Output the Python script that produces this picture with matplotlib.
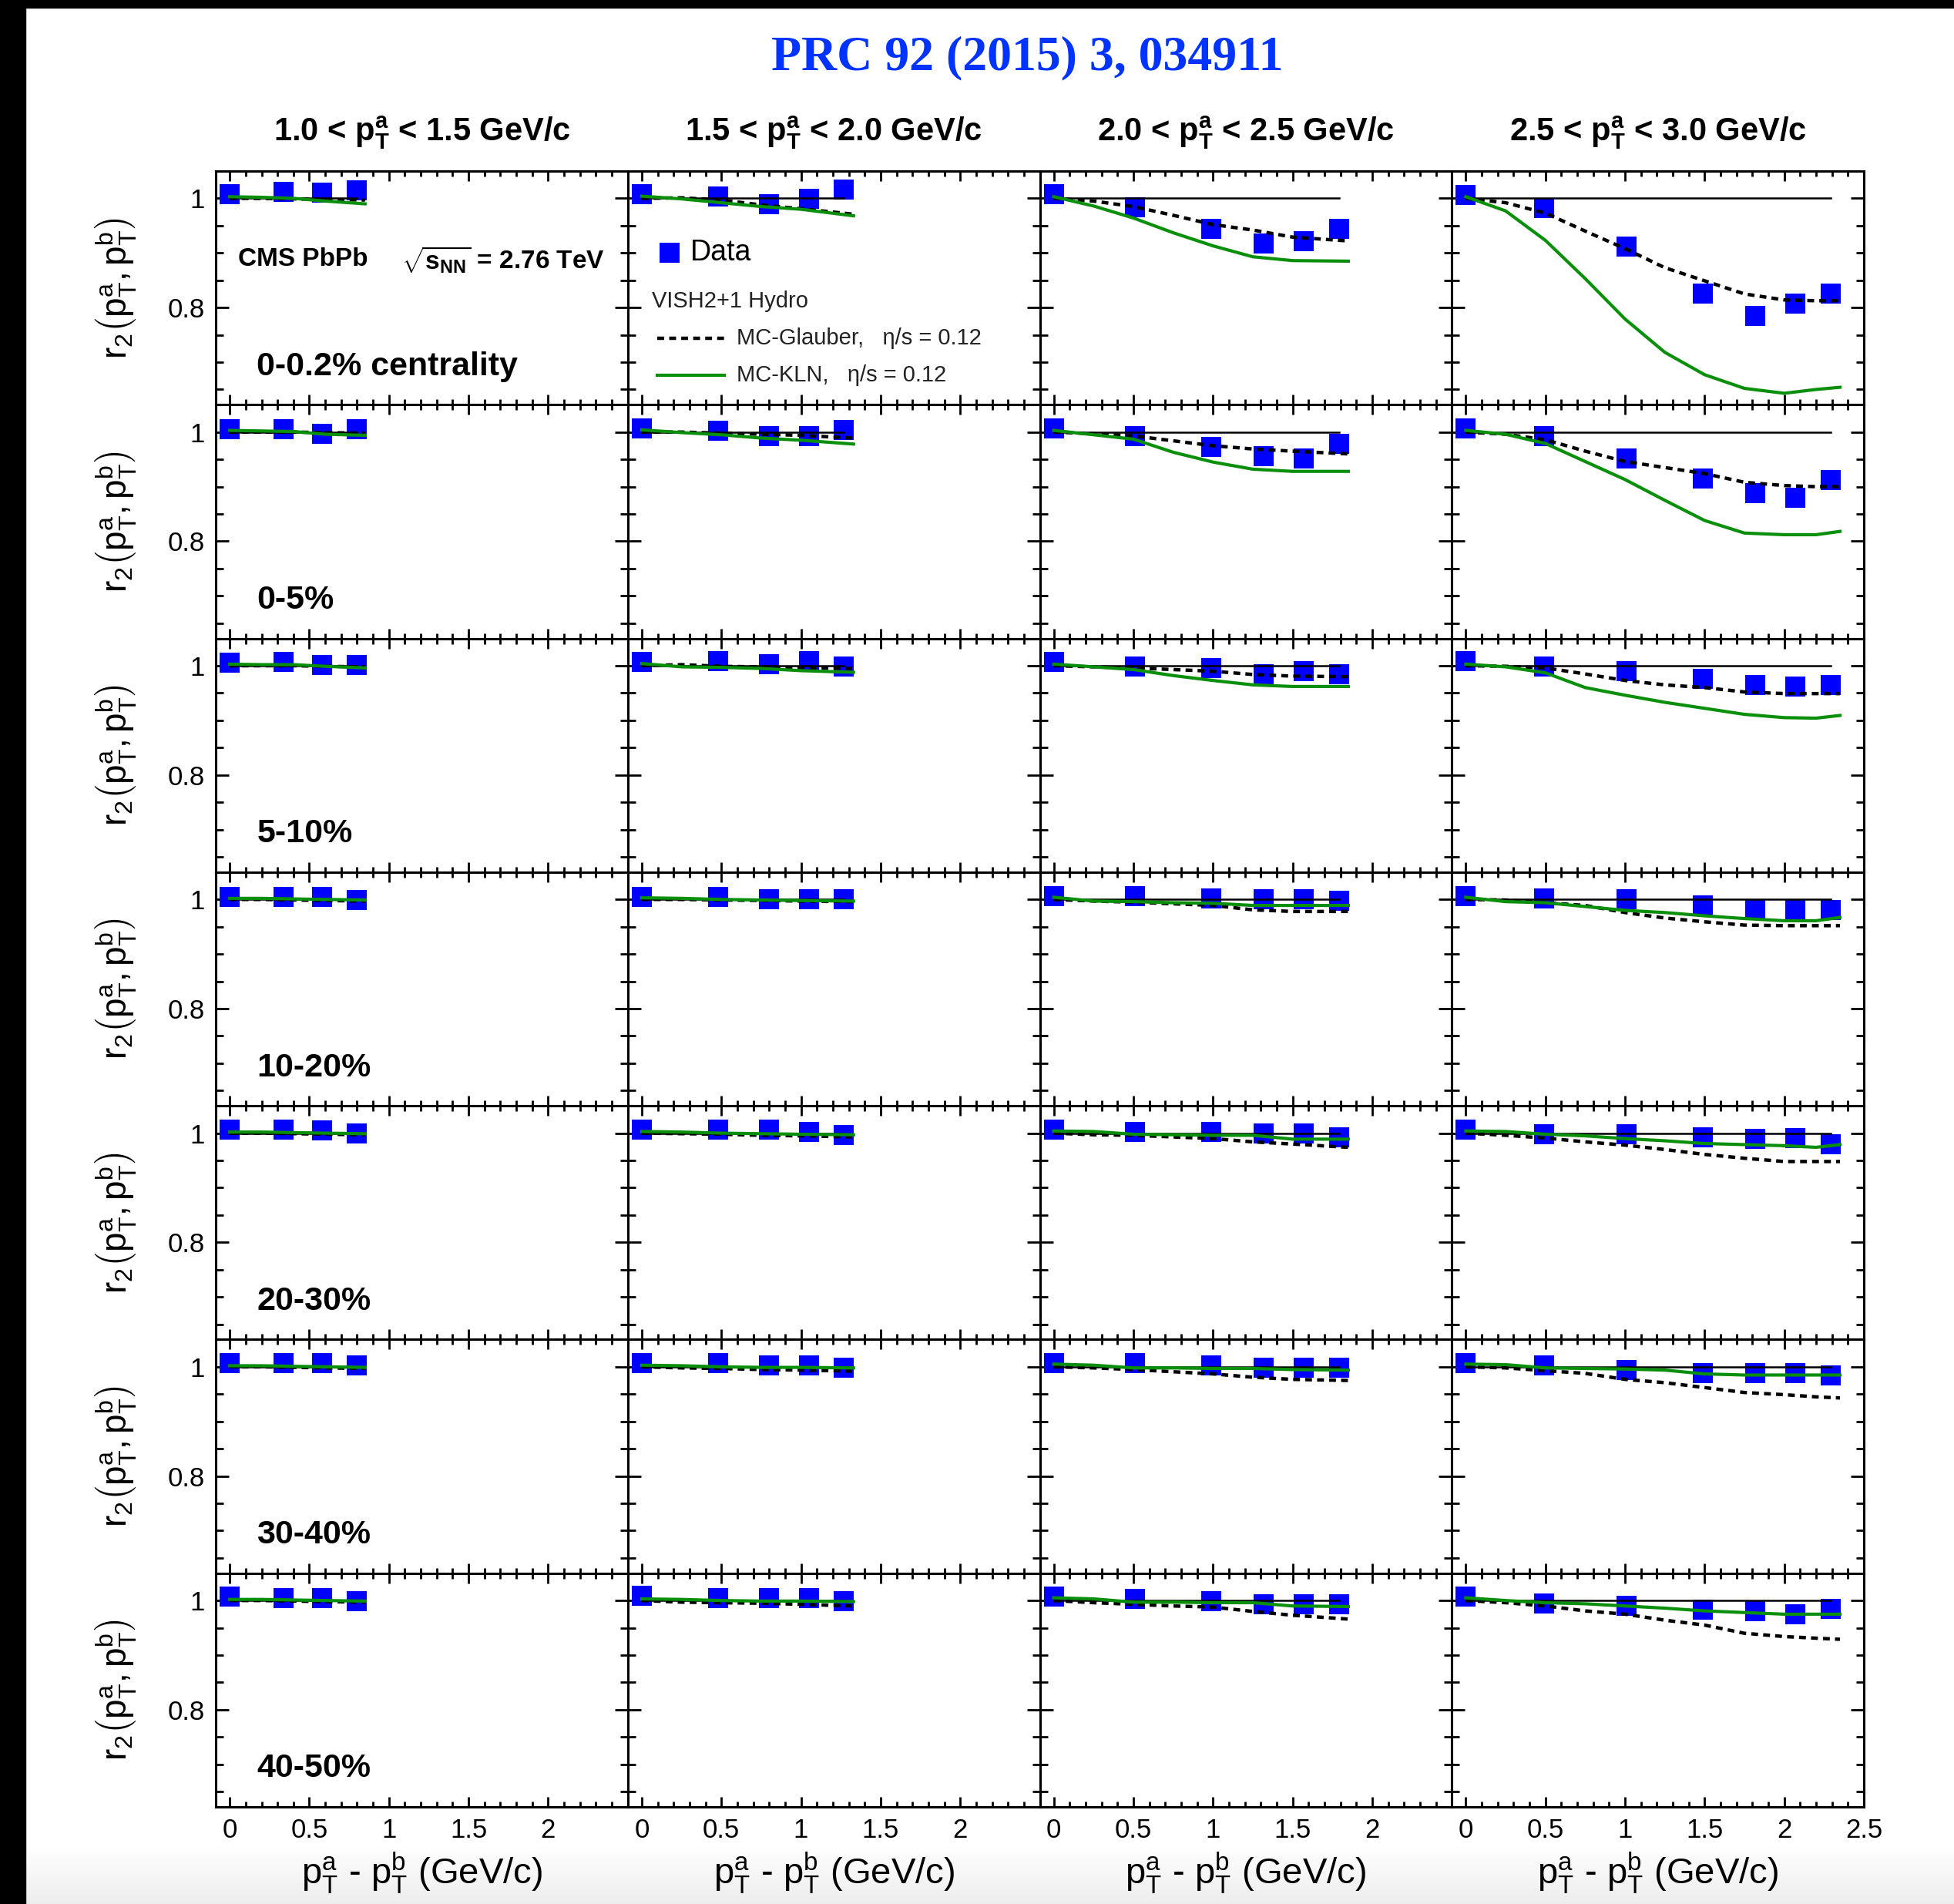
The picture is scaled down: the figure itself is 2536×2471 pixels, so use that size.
import numpy as np
import matplotlib
matplotlib.use("Agg")
import matplotlib.pyplot as plt
from matplotlib.ticker import MultipleLocator, FuncFormatter
from matplotlib.patches import Rectangle

plt.rcParams['font.family'] = ['Liberation Sans', 'DejaVu Sans']
plt.rcParams['mathtext.fontset'] = 'custom'
plt.rcParams['mathtext.rm'] = 'Liberation Sans'
plt.rcParams['mathtext.it'] = 'Liberation Sans'
plt.rcParams['mathtext.sf'] = 'Liberation Sans'
plt.rcParams['mathtext.bf'] = 'Liberation Sans:bold'

# ---------------- data ----------------
pta_low = ['1.0', '1.5', '2.0', '2.5']
pta_high = ['1.5', '2.0', '2.5', '3.0']
centralities = ['0-0.2% centrality', '0-5%', '5-10%', '10-20%', '20-30%', '30-40%', '40-50%']

# x = pT^a - pT^b of data points, per pT^a column
x_data1 = [0, 0.34, 0.58, 0.80]
x_data2 = [0, 0.48, 0.80, 1.05, 1.27]
x_data3 = [0, 0.51, 0.99, 1.32, 1.57, 1.79]
x_data4 = [0, 0.49, 1.01, 1.49, 1.82, 2.07, 2.29]

# x grids of the hydro curves, per column
th_x1 = [0, 0.2, 0.4, 0.6, 0.85]
th_x2 = [0, 0.25, 0.5, 0.75, 1.0, 1.33]
th_x3 = [0, 0.25, 0.5, 0.75, 1.0, 1.25, 1.5, 1.85]
th_x4 = [0, 0.25, 0.5, 0.75, 1.0, 1.25, 1.5, 1.75, 2.0, 2.2, 2.35]

# measured r2, one list per centrality, entries per column
r2_c0 = [[1.007, 1.012, 1.010, 1.015], [1.007, 1.004, 0.989, 0.999, 1.016],
         [1.007, 0.983, 0.944, 0.917, 0.922, 0.944], [1.006, 0.982, 0.912, 0.825, 0.784, 0.807, 0.825]]
r2_c1 = [[1.005, 1.005, 0.997, 1.005], [1.006, 1.002, 0.993, 0.993, 1.004],
         [1.007, 0.993, 0.973, 0.956, 0.951, 0.979], [1.007, 0.993, 0.951, 0.915, 0.888, 0.880, 0.912]]
r2_c2 = [[1.005, 1.007, 1.002, 1.002], [1.007, 1.008, 1.003, 1.008, 0.998],
         [1.007, 0.998, 0.996, 0.985, 0.990, 0.985], [1.008, 0.998, 0.990, 0.976, 0.965, 0.962, 0.965]]
r2_c3 = [[1.005, 1.005, 1.004, 0.999], [1.005, 1.004, 1.000, 1.000, 1.000],
         [1.006, 1.006, 1.002, 1.001, 1.001, 0.997], [1.006, 1.002, 1.001, 0.989, 0.982, 0.982, 0.981]]
r2_c4 = [[1.006, 1.006, 1.005, 0.999], [1.006, 1.006, 1.006, 1.002, 0.997],
         [1.006, 1.002, 1.002, 0.999, 0.999, 0.992], [1.006, 0.998, 0.998, 0.993, 0.989, 0.991, 0.980]]
r2_c5 = [[1.007, 1.007, 1.007, 1.002], [1.007, 1.007, 1.002, 1.002, 0.999],
         [1.007, 1.007, 1.003, 0.999, 0.999, 0.998], [1.007, 1.003, 0.994, 0.989, 0.989, 0.989, 0.984]]
r2_c6 = [[1.007, 1.004, 1.004, 0.999], [1.008, 1.004, 1.004, 1.004, 0.999],
         [1.007, 1.003, 0.999, 0.993, 0.993, 0.993], [1.007, 0.994, 0.990, 0.983, 0.981, 0.975, 0.985]]

# VISH2+1 MC-Glauber (eta/s = 0.12)
glauber_c0 = [[1.0, 1.0, 0.999, 0.998, 0.997], [1.0, 1.001, 0.997, 0.988, 0.981, 0.971],
              [1.0, 0.995, 0.985, 0.969, 0.952, 0.942, 0.929, 0.922],
              [1.0, 0.992, 0.973, 0.940, 0.908, 0.873, 0.849, 0.825, 0.814, 0.8125, 0.8125]]
glauber_c1 = [[1.0, 1.0, 1.0, 0.999, 0.998], [1.0, 1.0, 0.998, 0.996, 0.994, 0.989],
              [1.0, 0.997, 0.993, 0.984, 0.975, 0.969, 0.965, 0.960],
              [1.0, 0.996, 0.986, 0.965, 0.946, 0.935, 0.924, 0.908, 0.902, 0.900, 0.900]]
glauber_c2 = [[1.0, 1.0, 1.0, 0.999, 0.998], [1.0, 1.002, 0.999, 0.998, 0.996, 0.995],
              [1.0, 0.998, 0.996, 0.993, 0.990, 0.984, 0.981, 0.980],
              [1.0, 0.999, 0.996, 0.985, 0.973, 0.965, 0.960, 0.952, 0.949, 0.949, 0.949]]
glauber_c3 = [[1.0, 1.0, 0.999, 0.998, 0.997], [1.0, 1.0, 0.999, 0.998, 0.997, 0.996],
              [1.0, 0.997, 0.995, 0.992, 0.989, 0.981, 0.978, 0.978],
              [1.0, 0.999, 0.994, 0.989, 0.976, 0.966, 0.959, 0.953, 0.952, 0.952, 0.952]]
glauber_c4 = [[1.0, 1.0, 0.999, 0.998, 0.997], [1.0, 0.999, 0.998, 0.996, 0.995, 0.993],
              [1.0, 0.997, 0.996, 0.993, 0.990, 0.984, 0.980, 0.974],
              [1.0, 0.996, 0.991, 0.984, 0.978, 0.970, 0.961, 0.954, 0.948, 0.948, 0.948]]
glauber_c5 = [[1.0, 1.0, 0.999, 0.998, 0.997], [1.0, 0.998, 0.997, 0.995, 0.994, 0.992],
              [1.0, 0.998, 0.995, 0.991, 0.987, 0.981, 0.977, 0.975],
              [1.0, 0.998, 0.993, 0.988, 0.977, 0.971, 0.962, 0.953, 0.949, 0.945, 0.943]]
glauber_c6 = [[1.0, 1.0, 0.999, 0.998, 0.997], [1.0, 0.997, 0.996, 0.995, 0.993, 0.990],
              [1.0, 0.996, 0.993, 0.990, 0.988, 0.980, 0.973, 0.966],
              [1.0, 0.996, 0.990, 0.981, 0.975, 0.964, 0.955, 0.940, 0.934, 0.931, 0.929]]

# VISH2+1 MC-KLN (eta/s = 0.12)
kln_c0 = [[1.003, 1.002, 1.0, 0.995, 0.990], [1.004, 0.999, 0.992, 0.985, 0.980, 0.968],
          [1.003, 0.986, 0.964, 0.937, 0.913, 0.893, 0.886, 0.885],
          [1.003, 0.977, 0.923, 0.853, 0.779, 0.718, 0.677, 0.652, 0.643, 0.650, 0.654]]
kln_c1 = [[1.003, 1.002, 1.001, 0.996, 0.994], [1.004, 0.999, 0.995, 0.989, 0.985, 0.978],
          [1.003, 0.995, 0.987, 0.963, 0.945, 0.932, 0.928, 0.928],
          [1.003, 0.996, 0.979, 0.946, 0.913, 0.875, 0.838, 0.815, 0.812, 0.812, 0.818]]
kln_c2 = [[1.003, 1.002, 1.002, 0.999, 0.996], [1.004, 0.998, 0.997, 0.995, 0.991, 0.988],
          [1.003, 0.998, 0.993, 0.982, 0.973, 0.965, 0.962, 0.962],
          [1.003, 0.998, 0.987, 0.960, 0.946, 0.933, 0.922, 0.911, 0.905, 0.904, 0.909]]
kln_c3 = [[1.002, 1.002, 1.001, 1.0, 0.999], [1.003, 1.002, 1.0, 0.999, 0.998, 0.997],
          [1.004, 0.997, 0.996, 0.994, 0.993, 0.989, 0.989, 0.989],
          [1.004, 0.996, 0.994, 0.987, 0.980, 0.976, 0.970, 0.965, 0.961, 0.961, 0.967]]
kln_c4 = [[1.002, 1.002, 1.001, 1.0, 0.999], [1.003, 1.002, 1.0, 0.999, 0.998, 0.997],
          [1.004, 1.003, 0.998, 0.997, 0.996, 0.996, 0.989, 0.989],
          [1.004, 1.003, 0.998, 0.995, 0.990, 0.986, 0.981, 0.979, 0.977, 0.974, 0.979]]
kln_c5 = [[1.002, 1.002, 1.001, 1.0, 0.999], [1.003, 1.002, 1.0, 0.999, 0.999, 0.998],
          [1.005, 1.003, 0.998, 0.998, 0.997, 0.997, 0.995, 0.994],
          [1.005, 1.004, 0.998, 0.997, 0.996, 0.994, 0.987, 0.985, 0.985, 0.985, 0.985]]
kln_c6 = [[1.002, 1.002, 1.001, 1.0, 0.999], [1.003, 1.002, 1.0, 0.999, 0.999, 0.998],
          [1.005, 1.003, 0.997, 0.997, 0.996, 0.996, 0.990, 0.989],
          [1.005, 1.0, 0.996, 0.994, 0.990, 0.986, 0.981, 0.978, 0.975, 0.975, 0.975]]

x_data = [x_data1, x_data2, x_data3, x_data4]
th_x = [th_x1, th_x2, th_x3, th_x4]
r2_all = [r2_c0, r2_c1, r2_c2, r2_c3, r2_c4, r2_c5, r2_c6]
glauber_all = [glauber_c0, glauber_c1, glauber_c2, glauber_c3, glauber_c4, glauber_c5, glauber_c6]
kln_all = [kln_c0, kln_c1, kln_c2, kln_c3, kln_c4, kln_c5, kln_c6]

# ---------------- style ----------------
W, H = 2536, 2471
BLUE = '#0000ff'
GREEN = '#0a8f0a'
DASH = (0, (2.0, 1.5))

fig = plt.figure(figsize=(W / 100, H / 100), dpi=100)
fig.patch.set_facecolor('white')

L, R, T, B = 280, 2419, 222, 2345
axes = fig.subplots(7, 4, gridspec_kw=dict(left=L / W, right=R / W, top=1 - T / H, bottom=1 - B / H,
                                           wspace=0, hspace=0))

def yfmt(v, pos):
    if abs(v - 1.0) < 1e-6:
        return '1'
    return '%.1f' % v

for r in range(7):
    for c in range(4):
        ax = axes[r, c]
        ax.set_xlim(-0.088, 2.5)
        ax.set_ylim(0.622, 1.05)
        ax.xaxis.set_major_locator(MultipleLocator(0.5))
        ax.xaxis.set_minor_locator(MultipleLocator(0.1))
        ax.yaxis.set_major_locator(MultipleLocator(0.2))
        ax.yaxis.set_minor_locator(MultipleLocator(0.05))
        last = (c == 3)
        ax.xaxis.set_major_formatter(FuncFormatter(
            lambda v, p, last=last: '' if (v > 2.4 and not last) else ('%g' % v)))
        ax.yaxis.set_major_formatter(FuncFormatter(yfmt))
        ax.tick_params(which='both', direction='in', top=True, right=True,
                       labelbottom=(r == 6), labelleft=(c == 0), labelsize=25, width=2)
        ax.tick_params(axis='x', which='major', length=9.5, pad=10)
        ax.tick_params(axis='x', which='minor', length=5)
        ax.tick_params(axis='y', which='major', length=12, pad=10)
        ax.tick_params(axis='y', which='minor', length=7)
        for s in ax.spines.values():
            s.set_linewidth(2.2)

        xd = x_data[c]
        ax.plot(xd, r2_all[r][c], ls='none', marker='s', ms=19, mew=0, color=BLUE, zorder=3)
        ax.plot([0, xd[-1]], [1, 1], color='black', lw=1.8, zorder=4)
        ax.plot(th_x[c], glauber_all[r][c], color='black', lw=3.2, ls=DASH, zorder=5)
        ax.plot(th_x[c], kln_all[r][c], color=GREEN, lw=3.0, zorder=6)

    axes[r, 0].text(0.17, 0.692, centralities[r], fontsize=31, fontweight='bold', va='center', ha='left')

# CMS label
axes[0, 0].text(0.05, 0.888, 'CMS PbPb', fontsize=24, fontweight='bold', va='center')
axes[0, 0].text(1.08, 0.888, r'$\sqrt{\mathbf{s}_{\mathbf{NN}}}$ = 2.76 TeV', fontsize=24,
                fontweight='bold', va='center')

# legend
lax = axes[0, 1]
lax.plot([0.174], [0.901], ls='none', marker='s', ms=19, mew=0, color=BLUE)
lax.text(0.307, 0.901, 'Data', fontsize=27, va='center')
lax.text(0.061, 0.811, 'VISH2+1 Hydro', fontsize=21, va='center', color='#222222')
lax.plot([0.095, 0.518], [0.744, 0.744], color='black', lw=3.2, ls=DASH)
lax.text(0.595, 0.744, 'MC-Glauber,   η/s = 0.12', fontsize=21, va='center', color='#222222')
lax.plot([0.095, 0.518], [0.676, 0.676], color=GREEN, lw=3.0)
lax.text(0.595, 0.676, 'MC-KLN,   η/s = 0.12', fontsize=21, va='center', color='#222222')

# title
fig.text(1333 / W, 1 - 75 / H, 'PRC 92 (2015) 3, 034911', fontsize=46, fontweight='bold',
         family='Liberation Serif', color='#0033ff', ha='center', va='center')

colw = (R - L) / 4
for c in range(4):
    cx = (L + (c + 0.5) * colw) / W
    fig.text(cx, 1 - 183 / H,
             pta_low[c] + r' < $\mathbf{p}_{\mathbf{T}}^{\mathbf{a}}$ < ' + pta_high[c] + ' GeV/c',
             fontsize=30, fontweight='bold', ha='center', va='baseline')
    fig.text(cx, 1 - 2445 / H, r'$\mathrm{p}_{T}^{a}$ - $\mathrm{p}_{T}^{b}$ (GeV/c)',
             fontsize=34, ha='center', va='baseline')

rowh = (B - T) / 7
for r in range(7):
    cy = 1 - (T + (r + 0.5) * rowh) / H
    fig.text(150 / W, cy, r'$\mathrm{r}_{2}\left(\mathrm{p}_{T}^{a},\mathrm{p}_{T}^{b}\right)$',
             fontsize=33, rotation=90, ha='center', va='center')

# screen-capture frame: black band top and left, grey fade at bottom
gax = fig.add_axes([0, 0, 1, 76 / H], zorder=-5)
grad = np.linspace(0.93, 1.0, 64).reshape(-1, 1)
gax.imshow(np.dstack([grad, grad, grad]), aspect='auto', extent=[0, 1, 0, 1], origin='lower')
gax.set_axis_off()
fig.add_artist(Rectangle((0, 1 - 10 / H), 1, 10 / H, transform=fig.transFigure,
                         color='black', zorder=10))
fig.add_artist(Rectangle((0, 0), 33 / W, 1, transform=fig.transFigure, color='black', zorder=10))

fig.savefig('out.png', dpi=100)
